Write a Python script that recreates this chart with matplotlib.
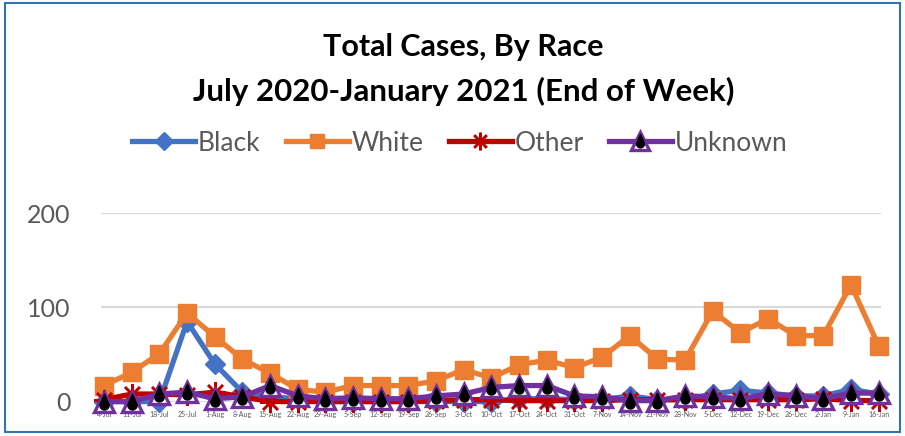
import numpy as np
import matplotlib
matplotlib.use("Agg")
import matplotlib.pyplot as plt
from matplotlib.path import Path
from matplotlib.patches import Rectangle
from matplotlib.legend_handler import HandlerTuple

weeks = ["4-Jul", "11-Jul", "18-Jul", "25-Jul", "1-Aug", "8-Aug", "15-Aug", "22-Aug",
         "29-Aug", "5-Sep", "12-Sep", "19-Sep", "26-Sep", "3-Oct", "10-Oct", "17-Oct",
         "24-Oct", "31-Oct", "7-Nov", "14-Nov", "21-Nov", "28-Nov", "5-Dec", "12-Dec",
         "19-Dec", "26-Dec", "2-Jan", "9-Jan", "16-Jan"]
black = [0, 0, 0, 85, 40, 10, 5, 3, 0, 0, 0, 0, 0, 0, 0, 3, 3, 2, 2, 6, 2, 2, 8, 12,
         9, 6, 6, 13, 8]
white = [17, 31, 51, 94, 69, 45, 30, 13, 10, 17, 17, 17, 22, 34, 25, 39, 44, 36, 47,
         70, 45, 44, 96, 73, 88, 70, 70, 124, 59]
other = [2, 8, 8, 7, 10, 5, 0, 0, 0, 0, 0, 0, 1, 2, 2, 1, 1, 1, 1, 2, 2, 2, 2, 2,
         2, 2, 3, 1, 1]
unknown = [0, 0, 8, 10, 3, 5, 17, 6, 3, 4, 3, 3, 6, 8, 15, 17, 17, 6, 5, 1, 1, 6, 5,
           3, 8, 6, 3, 9, 9]
yticks = [0, 100, 200]

plt.rcParams['font.family'] = ['Lato', 'DejaVu Sans']

# teardrop marker shape (tip up, round bottom)
r = 0.55
cx, cy = 0.0, -0.35
angs = np.linspace(np.deg2rad(150), np.deg2rad(390), 40)
loop = [(0.0, 1.0)] + [(cx + r * np.cos(a), cy + r * np.sin(a)) for a in angs] + [(0.0, 1.0)]
codes = [Path.MOVETO] + [Path.LINETO] * (len(loop) - 2) + [Path.CLOSEPOLY]
drop = Path(loop, codes)

fig = plt.figure(figsize=(9.05, 4.36), dpi=100)
fig.patches.append(Rectangle((0.006, 0.009), 0.988, 0.985, transform=fig.transFigure,
                             fill=False, edgecolor='#2E75B6', linewidth=1.5))
ax = fig.add_axes([0.112, 0.079, 0.862, 0.432])

x = np.arange(len(weeks))
lw = 3.8
l_b, = ax.plot(x, black, color='#4472C4', lw=lw, marker='D', ms=10.5, clip_on=False,
               solid_joinstyle='round', zorder=3, label='Black')
l_w, = ax.plot(x, white, color='#ED7D31', lw=lw, marker='s', ms=12.5, clip_on=False,
               solid_joinstyle='round', zorder=4, label='White')
l_o, = ax.plot(x, other, color='#C00000', lw=lw, marker=(8, 2, 0), ms=15, mew=1.8,
               clip_on=False, zorder=5, label='Other')
l_u, = ax.plot(x, unknown, color='#7030A0', lw=lw, marker='^', ms=15, mfc='white',
               mec='#7030A0', mew=2.4, clip_on=False, zorder=6, label='Unknown')
l_d, = ax.plot(x, unknown, linestyle='none', marker=drop, ms=12, color='black',
               clip_on=False, zorder=7)

ax.set_ylim(0, 200)
ax.set_xlim(-0.1, len(weeks) - 0.9)
ax.set_yticks(yticks)
ax.set_yticklabels([str(v) for v in yticks], fontsize=18, color='#595959')
ax.set_xticks(x)
ax.set_xticklabels(weeks, fontsize=5, color='#595959')
ax.tick_params(axis='both', length=0)
ax.tick_params(axis='y', pad=22)
ax.tick_params(axis='x', pad=7)
ax.grid(axis='y', color='#D9D9D9', lw=1.5)
ax.set_axisbelow(True)
for s in ax.spines.values():
    s.set_visible(False)

fig.text(0.512, 0.893, "Total Cases, By Race", ha='center', va='center',
         fontsize=22, fontweight='bold', color='black')
fig.text(0.512, 0.79, "July 2020-January 2021 (End of Week)", ha='center', va='center',
         fontsize=22.5, fontweight='bold', color='black')

leg = fig.legend([l_b, l_w, l_o, (l_u, l_d)], ['Black', 'White', 'Other', 'Unknown'],
                 handler_map={tuple: HandlerTuple(ndivide=1, pad=0)},
                 loc='center', bbox_to_anchor=(0.508, 0.672), ncol=4, frameon=False,
                 fontsize=19, handlelength=2.4, columnspacing=0.95, handletextpad=0.1,
                 markerscale=0.85)
for txt in leg.get_texts():
    txt.set_color('#595959')

fig.savefig('out.png', dpi=100)
